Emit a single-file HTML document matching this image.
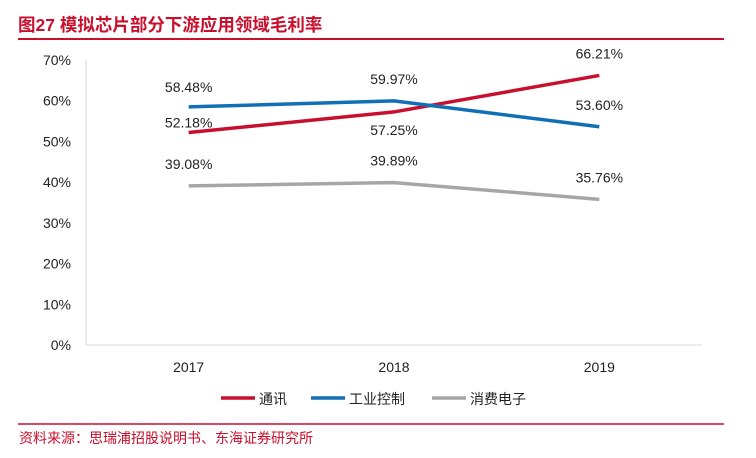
<!DOCTYPE html>
<html><head><meta charset="utf-8"><style>
body{margin:0;background:#fff;width:756px;height:453px;overflow:hidden;font-family:"Liberation Sans","Noto Sans CJK SC",sans-serif}
</style></head><body>
<svg width="756" height="453" xmlns="http://www.w3.org/2000/svg" font-family="Liberation Sans, Noto Sans CJK SC, sans-serif">
<text x="18" y="31" font-size="17.5" font-weight="bold" fill="#C8102E">图27  模拟芯片部分下游应用领域毛利率</text>
<line x1="18" y1="39" x2="724" y2="39" stroke="#C8102E" stroke-width="2"/>
<g id="chart"></g>
<line x1="18" y1="424" x2="724" y2="424" stroke="#C8102E" stroke-width="1.5"/>
<text x="19" y="443" font-size="14" fill="#C8102E">资料来源：思瑞浦招股说明书、东海证券研究所</text>
</svg>
<script>
const categories=["2017","2018","2019"];
const seriesNames=["通讯","工业控制","消费电子"];
const comm=[52.18,57.25,66.21];
const indus=[58.48,59.97,53.60];
const cons=[39.08,39.89,35.76];
const yTicks=[0,10,20,30,40,50,60,70];
const colors=["#C8102E","#1170B5","#A6A6A6"];
const labelOff=[[-10,18,-22],[-20,-22,-22],[-22,-22,-22]];
const g=document.getElementById('chart');
const NS="http://www.w3.org/2000/svg";
const x0=86,x1=702,y0=345,yTop=60;
const y=v=>y0-(v/70)*(y0-yTop);
const x=i=>x0+(i+0.5)*(x1-x0)/categories.length;
function mk(t,a,txt){const e=document.createElementNS(NS,t);for(const k in a)e.setAttribute(k,a[k]);if(txt!=null)e.textContent=txt;g.appendChild(e);return e;}
let ax=mk('line',{x1:x0,y1:yTop,x2:x0,y2:y0,stroke:'#D9D9D9'});


let bx=mk('line',{x1:x0,y1:y0,x2:x1,y2:y0,stroke:'#D9D9D9'});


yTicks.forEach(t=>{const e=mk('text',{x:71,y:y(t)+5,'font-size':14,'text-anchor':'end',fill:'#222'},t+'%');

});
categories.forEach((c,i)=>{const e=mk('text',{x:x(i),y:372,'font-size':14,'text-anchor':'middle',fill:'#222'},c);

});
[comm,indus,cons].forEach((s,si)=>{
 const p=mk('polyline',{points:s.map((v,i)=>x(i)+','+y(v)).join(' '),fill:'none',stroke:colors[si],'stroke-width':3.5});
 
 
 s.forEach((v,i)=>{const t=mk('text',{x:x(i),y:y(v)+labelOff[si][i]+5,'font-size':14,'text-anchor':'middle',fill:'#222'},v.toFixed(2)+'%');
 
 });
});
const lx=[221,311,432];
seriesNames.forEach((n,i)=>{
 const l=mk('line',{x1:lx[i],y1:398,x2:lx[i]+34,y2:398,stroke:colors[i],'stroke-width':3.5});
 
 
 const t=mk('text',{x:lx[i]+38,y:404,'font-size':14,fill:'#222'},n);
 
 
});
</script>
</body></html>
